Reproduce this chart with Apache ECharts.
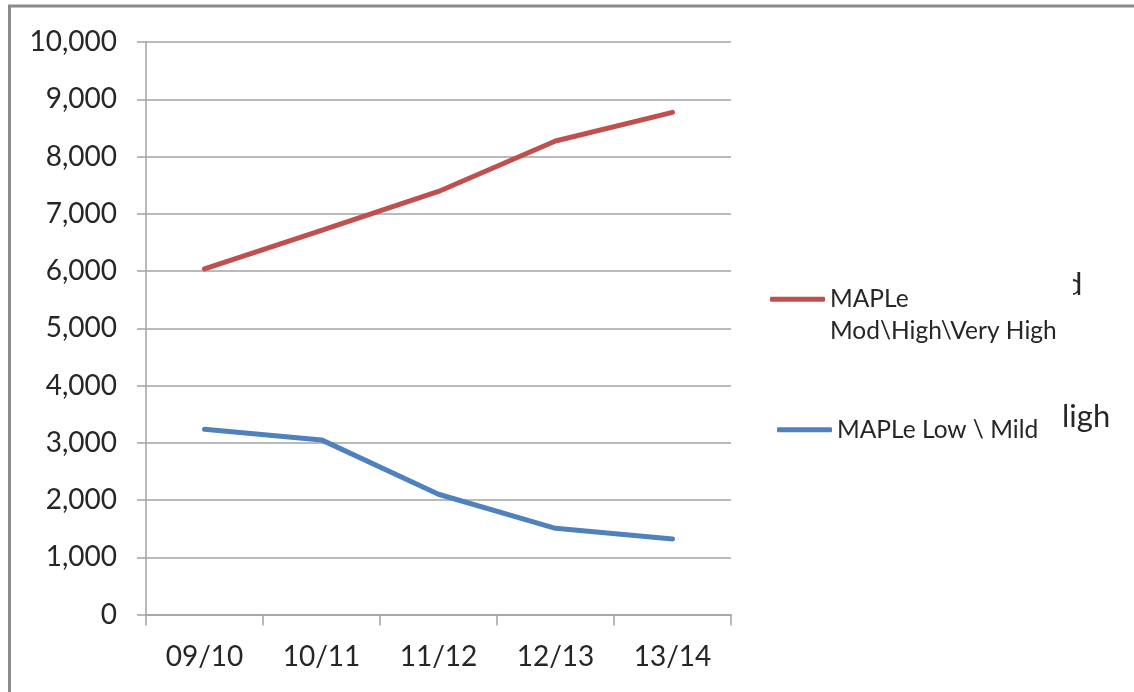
<!DOCTYPE html>
<html>
<head>
<meta charset="utf-8">
<script src="https://cdn.jsdelivr.net/npm/echarts@6/dist/echarts.min.js"></script>
<style>
  html, body { margin: 0; padding: 0; background: #fff; }
  #chart { width: 1134px; height: 692px; }
</style>
</head>
<body>
<div id="chart"></div>
<script>
// Fiscal years on the category axis
const years = ['09/10', '10/11', '11/12', '12/13', '13/14'];

// MAPLe risk-level counts per year
const highName = 'MAPLe Mod\\High\\Very High';
const highValues = [6035, 6710, 7390, 8270, 8770];
const lowName = 'MAPLe Low \\ Mild';
const lowValues = [3235, 3050, 2100, 1505, 1320];

// Value-axis range and step
const yMin = 0;
const yMax = 10000;
const yStep = 1000;

const FONT = 'Lato';
const TEXT = '#262626';
const GRID = '#a3a3a3';

const chart = echarts.init(document.getElementById('chart'));

chart.setOption({
  backgroundColor: '#ffffff',
  animation: false,
  textStyle: { fontFamily: FONT },
  grid: { left: 146, right: 403, top: 42, bottom: 77.5, containLabel: false },
  xAxis: {
    type: 'category',
    data: years,
    boundaryGap: true,
    axisLine: { show: true, lineStyle: { color: GRID, width: 1.5 } },
    axisTick: { show: true, length: 11, lineStyle: { color: GRID, width: 1.5 } },
    axisLabel: { color: TEXT, fontSize: 28, fontFamily: FONT, margin: 28 },
    splitLine: { show: false }
  },
  yAxis: {
    type: 'value',
    min: yMin,
    max: yMax,
    interval: yStep,
    axisLine: { show: true, lineStyle: { color: GRID, width: 1.5 } },
    axisTick: { show: true, length: 9, lineStyle: { color: GRID, width: 1.5 } },
    axisLabel: {
      color: TEXT, fontSize: 28, fontFamily: FONT, margin: 29,
      formatter: v => v.toLocaleString('en-US')
    },
    splitLine: { show: true, lineStyle: { color: GRID, width: 1.5 } }
  },
  legend: [
    {
      data: [highName],
      orient: 'vertical',
      left: 770,
      top: 252,
      padding: 0,
      icon: 'roundRect',
      itemWidth: 55,
      itemHeight: 5,
      selectedMode: false,
      // leading blank line keeps the first text line level with the swatch
      formatter: name => '\n' + name.replace(' ', '\n'),
      textStyle: { color: TEXT, fontSize: 24.5, fontFamily: FONT, lineHeight: 31.5 }
    },
    {
      data: [lowName],
      orient: 'vertical',
      left: 777,
      top: 414,
      padding: 0,
      icon: 'roundRect',
      itemWidth: 55,
      itemHeight: 5,
      selectedMode: false,
      textStyle: { color: TEXT, fontSize: 24.5, fontFamily: FONT, lineHeight: 31.5 }
    }
  ],
  graphic: [
    // outer frame
    {
      type: 'rect',
      shape: { x: 9.5, y: 6, width: 1300, height: 900 },
      style: { fill: 'none', stroke: '#8a8a8a', lineWidth: 3 },
      silent: true
    },
    // stray text fragments at the right edge
    {
      type: 'text',
      left: 1065,
      top: 269,
      style: { text: 'd', fill: TEXT, font: '31px ' + FONT }
    },
    {
      type: 'rect',
      shape: { x: 1058, y: 266, width: 15, height: 36 },
      style: { fill: '#ffffff' },
      silent: true
    },
    {
      type: 'text',
      left: 1062,
      top: 401,
      style: { text: 'ligh', fill: TEXT, font: '31px ' + FONT }
    }
  ],
  series: [
    {
      name: highName,
      type: 'line',
      data: highValues,
      symbol: 'none',
      color: '#c0504d',
      lineStyle: { width: 5, color: '#c0504d', cap: 'round', join: 'round' }
    },
    {
      name: lowName,
      type: 'line',
      data: lowValues,
      symbol: 'none',
      color: '#4f81bd',
      lineStyle: { width: 5, color: '#4f81bd', cap: 'round', join: 'round' }
    }
  ]
});
</script>
</body>
</html>
